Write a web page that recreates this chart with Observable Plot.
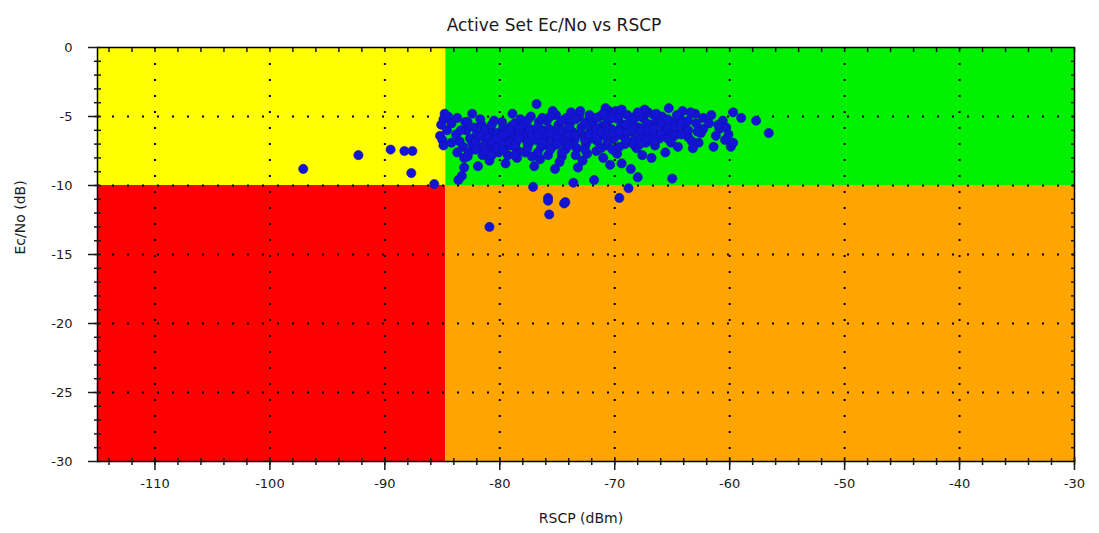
<!DOCTYPE html>
<html>
<head>
<meta charset="utf-8">
<script src="https://cdn.jsdelivr.net/npm/d3@7"></script>
<script src="https://cdn.jsdelivr.net/npm/@observablehq/plot@0.6"></script>
<style>
  html, body { margin: 0; padding: 0; background: #ffffff; }
  #chart { width: 1099px; height: 533px; }
</style>
</head>
<body>
<div id="chart"></div>
<script>
// ---- Chart texts ----
const titleText = "Active Set Ec/No vs RSCP";
const xLabelText = "RSCP (dBm)";
const yLabelText = "Ec/No (dB)";

// ---- Axis domains and ticks ----
const rscpDomain = [-115, -30];
const ecnoDomain = [-30, 0];
const rscpTicks = [-110, -100, -90, -80, -70, -60, -50, -40, -30];
const ecnoTicks = [0, -5, -10, -15, -20, -25, -30];
const rscpMinorTicks = d3.range(-114, -29, 2);
const ecnoMinorTicks = d3.range(-29, 0, 1);

// ---- Quality thresholds (zone boundaries) ----
const rscpThreshold = -84.7;
const ecnoThreshold = -10;

// ---- Measured samples: RSCP (dBm) ----
const rscp = [
  -84.8,-84.9,-85.1,-85.2,-85.0,-84.9,-84.6,-84.5,
  -83.8,-83.5,-83.2,-83.1,-83.1,-83.3,-83.6,-82.9,-82.6,-82.4,-82.2,-82.7,-82.0,-81.9,-82.4,
  -81.6,-81.4,-81.2,-81.0,-80.8,-80.6,-80.4,-81.5,-80.9,-80.2,-80.5,-81.8,-80.1,
  -79.8,-79.6,-79.4,-79.2,-79.5,-79.0,-78.8,-78.6,-78.4,-79.9,-78.2,-78.9,-78.1,-78.5,-79.3,
  -77.9,-77.7,-77.5,-77.3,-77.1,-76.9,-76.8,-76.6,-76.4,-76.2,-77.8,-76.5,-77.0,-76.1,-77.4,-77.1,
  -75.9,-75.7,-75.5,-75.3,-75.1,-74.9,-74.7,-74.5,-74.3,-75.8,-74.8,-74.2,-75.4,-75.8,-75.8,-75.7,-74.3,-74.6,-75.2,
  -73.9,-73.7,-73.5,-73.3,-73.1,-72.9,-72.7,-72.5,-72.3,-73.6,-72.8,-73.2,-72.1,-73.8,-72.4,
  -71.9,-71.7,-71.5,-71.3,-71.1,-70.9,-70.7,-70.5,-70.3,-71.8,-71.0,-70.4,-70.1,-71.6,-70.8,
  -69.9,-69.7,-69.5,-69.3,-69.1,-68.9,-68.7,-68.5,-68.3,-68.1,-69.6,-68.8,-68.0,-69.4,-68.6,-69.8,-68.2,
  -67.9,-67.7,-67.5,-67.3,-67.1,-66.9,-66.7,-66.5,-66.3,-66.1,-67.6,-66.8,-67.4,
  -65.9,-65.7,-65.5,-65.3,-65.1,-64.9,-64.7,-64.1,-65.0,-64.5,-65.6,-64.3,
  -63.9,-63.6,-63.2,-62.9,-62.5,-62.3,-62.3,-63.0,-62.7,
  -61.4,-60.9,-60.6,-60.3,-59.9,-59.7,-59.7,-59.0,-57.7,-56.6,-61.2,-60.1,-61.8,
  -97.1,-92.3,-89.5,-88.3,-87.6,-87.7,-85.7,-80.9,-74.4,
  -83.0,-81.1,-79.1,-77.6,-75.0,-73.4,-71.4,-69.2,-67.2,-80.3,-76.0,-72.0,-68.4,-78.7,-74.0,-70.0,
  -84.2,-84.2,-83.7,-83.7,-83.4,-82.8,-82.8,-82.1,-82.1,-81.7,-81.7,-81.3,-81.3,
  -80.7,-80.7,-80.7,-80.3,-80.3,-79.7,-79.7,-79.7,-79.1,-79.1,-78.7,-78.7,-78.7,-78.3,-78.3,
  -77.6,-77.6,-77.6,-77.2,-77.2,-76.7,-76.7,-76.7,-76.3,-76.3,-75.6,-75.6,-75.6,-75.0,-75.0,-75.0,
  -74.6,-74.6,-74.6,-74.0,-74.0,-74.0,-73.4,-73.4,-73.4,-72.6,-72.6,-72.6,-72.2,-72.2,
  -71.6,-71.6,-71.6,-71.2,-71.2,-70.6,-70.6,-70.6,-70.2,-70.2,-70.2,-69.6,-69.6,-69.6,
  -69.0,-69.0,-69.0,-68.4,-68.4,-68.4,-67.8,-67.8,-67.8,-67.2,-67.2,-67.2,-66.6,-66.6,-66.6,
  -66.0,-66.0,-65.4,-65.4,-65.4,-64.8,-64.8,-64.2,-64.2,-63.6,-63.6,-63.3,-62.8,-61.0,-60.4,
  -73.0,-71.0,-69.4,-68.0,-66.4,-64.6,-63.4,-61.6
];

// ---- Measured samples: Ec/No (dB), same order ----
const ecno = [
  -4.8,-5.2,-5.6,-6.4,-6.7,-7.1,-6.0,-5.0,
  -6.3,-6.8,-7.2,-8.0,-8.7,-9.3,-9.6,-6.0,-6.6,-7.0,-5.8,-7.6,-6.3,-8.6,-4.8,
  -5.6,-6.1,-6.8,-7.3,-5.9,-6.5,-7.0,-7.8,-8.2,-6.2,-5.3,-7.2,-7.6,
  -5.4,-6.0,-6.6,-7.1,-8.4,-5.7,-6.3,-6.9,-7.5,-6.8,-5.2,-4.8,-6.0,-8.0,-7.8,
  -5.6,-6.4,-7.0,-5.0,-6.1,-6.7,-4.1,-5.4,-7.2,-6.0,-7.6,-8.1,-8.6,-6.6,-5.9,-10.1,
  -5.3,-5.9,-6.5,-7.1,-4.9,-5.6,-6.2,-6.8,-7.4,-7.8,-8.3,-5.1,-4.6,-10.9,-11.1,-12.1,-11.2,-7.9,-8.8,
  -5.5,-6.1,-6.7,-7.3,-5.0,-5.8,-6.4,-7.0,-5.3,-9.8,-8.2,-8.7,-6.0,-4.7,-7.7,
  -5.4,-6.2,-6.8,-5.0,-5.7,-6.4,-7.1,-4.6,-5.9,-9.6,-8.0,-8.5,-6.6,-7.5,-4.4,
  -4.6,-5.2,-5.8,-6.4,-7.0,-4.9,-5.5,-6.1,-6.7,-7.3,-10.9,-10.2,-9.4,-8.4,-8.8,-7.7,-5.0,
  -5.8,-6.4,-5.1,-6.9,-4.7,-5.6,-6.2,-7.1,-5.3,-6.6,-7.8,-8.0,-4.5,
  -5.0,-5.7,-6.3,-4.4,-6.9,-5.4,-6.0,-4.6,-9.5,-7.2,-7.6,-5.2,
  -5.8,-6.5,-7.3,-5.5,-6.2,-5.1,-5.9,-4.8,-6.9,
  -7.2,-5.9,-5.3,-5.8,-7.2,-6.9,-4.7,-5.1,-5.3,-6.2,-6.4,-6.3,-5.5,
  -8.8,-7.8,-7.4,-7.5,-7.5,-9.1,-9.9,-13.0,-11.3,
  -5.4,-6.5,-6.2,-6.7,-6.0,-6.3,-6.0,-5.6,-5.9,-7.4,-7.0,-6.6,-5.7,-7.2,-6.7,-6.5,
  -5.5,-6.9,-5.1,-7.6,-6.0,-5.4,-7.9,-6.8,-7.4,-6.4,-5.2,-7.5,-5.9,
  -6.9,-7.8,-5.6,-6.6,-7.3,-5.8,-7.4,-6.3,-6.0,-6.9,-5.5,-7.1,-7.8,-6.6,-5.9,
  -5.3,-6.9,-7.3,-6.4,-7.9,-5.8,-6.3,-7.6,-5.1,-6.9,-6.2,-7.4,-5.0,-6.5,-7.0,-5.9,
  -5.3,-6.0,-7.6,-5.8,-6.4,-7.1,-5.2,-6.4,-7.8,-5.5,-6.7,-7.4,-6.3,-4.9,
  -5.1,-5.9,-6.5,-6.1,-7.3,-5.3,-6.0,-6.9,-5.1,-6.2,-7.4,-4.9,-6.1,-7.2,
  -5.6,-6.2,-6.7,-5.3,-5.9,-7.0,-5.0,-6.1,-7.0,-5.5,-6.0,-6.6,-4.9,-5.9,-6.8,
  -5.5,-6.2,-5.2,-5.9,-6.6,-5.7,-6.4,-5.5,-6.3,-5.3,-6.0,-6.8,-6.1,-5.6,-6.7,
  -4.6,-4.8,-4.5,-4.7,-4.8,-4.9,-4.7,-4.9
];

const samples = rscp.map((x, i) => ({rscp: x, ecno: ecno[i]}));

// Zone rectangles built from thresholds and domains
const zoneColors = {weakGood: "#ffff00", strongGood: "#00f000", weakBad: "#ff0000", strongBad: "#ffa500"};
const zones = [
  {x1: rscpDomain[0], x2: rscpThreshold, y1: ecnoThreshold, y2: ecnoDomain[1], fill: zoneColors.weakGood},
  {x1: rscpThreshold, x2: rscpDomain[1], y1: ecnoThreshold, y2: ecnoDomain[1], fill: zoneColors.strongGood},
  {x1: rscpDomain[0], x2: rscpThreshold, y1: ecnoDomain[0], y2: ecnoThreshold, fill: zoneColors.weakBad},
  {x1: rscpThreshold, x2: rscpDomain[1], y1: ecnoDomain[0], y2: ecnoThreshold, fill: zoneColors.strongBad}
];

const fmt = d => String(d);
const blank = () => "";

const chart = Plot.plot({
  width: 1099,
  height: 533,
  marginTop: 47,
  marginBottom: 72,
  marginLeft: 97,
  marginRight: 25,
  style: {fontFamily: "'DejaVu Sans', sans-serif", fontSize: "13px", background: "#ffffff", color: "#1a1a1a"},
  x: {domain: rscpDomain, axis: null},
  y: {domain: ecnoDomain, axis: null},
  marks: [
    Plot.rect(zones, {x1: "x1", x2: "x2", y1: "y1", y2: "y2", fill: "fill"}),
    Plot.gridX(rscpTicks.slice(0, -1), {stroke: "#000000", strokeOpacity: 1, strokeWidth: 2, strokeDasharray: "2,14"}),
    Plot.gridY(ecnoTicks.slice(1, -1), {stroke: "#000000", strokeOpacity: 1, strokeWidth: 2, strokeDasharray: "2,13"}),
    Plot.dot(samples, {x: "rscp", y: "ecno", r: 4.6, fill: "#1414d4", stroke: "#1010b0", strokeWidth: 0.6}),
    Plot.frame({stroke: "#000000", strokeWidth: 1.5}),
    // bottom axis: minor ticks crossing, major ticks, labels
    Plot.axisX(rscpMinorTicks, {anchor: "bottom", tickSize: 7, dy: -3, tickFormat: blank, label: null, strokeWidth: 1.5}),
    Plot.axisX(rscpTicks, {anchor: "bottom", tickSize: 13, dy: -4, tickFormat: blank, label: null, strokeWidth: 1.5}),
    Plot.axisX(rscpTicks, {anchor: "bottom", tickSize: 0, tickPadding: 17, tickFormat: fmt, label: null, fontSize: 13, fill: "#1a1a1a"}),
    // top axis: small inward ticks
    Plot.axisX(rscpMinorTicks, {anchor: "top", tickSize: 4, dy: 4, tickFormat: blank, label: null, strokeWidth: 1.5}),
    // left axis
    Plot.axisY(ecnoMinorTicks, {anchor: "left", tickSize: 7, dx: 4, tickFormat: blank, label: null, strokeWidth: 1.5}),
    Plot.axisY(ecnoTicks, {anchor: "left", tickSize: 12, dx: 3, tickFormat: blank, label: null, strokeWidth: 1.5}),
    Plot.axisY(ecnoTicks, {anchor: "left", tickSize: 0, tickPadding: 25, tickFormat: fmt, label: null, fontSize: 13, fill: "#1a1a1a"}),
    // right axis: small inward ticks
    Plot.axisY(ecnoMinorTicks, {anchor: "right", tickSize: 4, dx: -4, tickFormat: blank, label: null, strokeWidth: 1.5}),
    // title and axis labels
    Plot.text([titleText], {text: d => d, frameAnchor: "top", dy: -29, dx: -32, fontSize: 17, fill: "#1a1a1a", style: "letter-spacing:1px"}),
    Plot.text([xLabelText], {text: d => d, frameAnchor: "bottom", dy: 61, dx: -5, fontSize: 14, fill: "#1a1a1a"}),
    Plot.text([yLabelText], {text: d => d, frameAnchor: "left", dx: -77, rotate: -90, fontSize: 14, fill: "#1a1a1a"})
  ]
});

document.getElementById("chart").appendChild(chart);
</script>
</body>
</html>
